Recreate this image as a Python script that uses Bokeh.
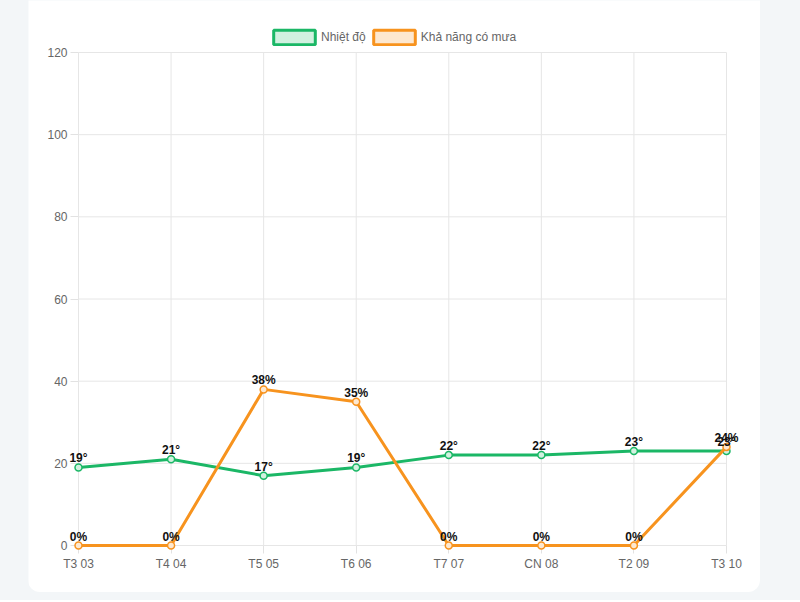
from bokeh.plotting import figure
from bokeh.models import ColumnDataSource, FixedTicker, Legend, LegendItem, Range1d, LabelSet
from bokeh.layouts import column
from bokeh.embed import file_html
from bokeh.resources import INLINE
from bokeh.core.properties import value

days = ["T3 03", "T4 04", "T5 05", "T6 06", "T7 07", "CN 08", "T2 09", "T3 10"]
temps = [19, 21, 17, 19, 22, 22, 23, 23]
rain = [0, 0, 38, 35, 0, 0, 0, 24]
y_ticks = [0, 20, 40, 60, 80, 100, 120]

GREEN = "#1bb766"
GREEN_L = "#d2f1e0"
ORANGE = "#f7931e"
ORANGE_L = "#fde8d0"
FONT = "Liberation Sans"
GRID = "#e6e6e6"

# layout (pixels inside the white card)
W, H = 732, 592
PL, PR, PT, PB = 50, 34, 52, 47

xs = list(range(len(days)))
x_max = xs[-1]
y_max = y_ticks[-1]
upx = x_max / (W - PL - PR)
upy = y_max / (H - PT - PB)

src = ColumnDataSource(dict(
    x=xs, t=temps, r=rain,
    tl=[f"{v}°" for v in temps],
    rl=[f"{v}%" for v in rain],
))

p = figure(width=W, height=H, output_backend="svg", toolbar_location=None,
           x_range=Range1d(-PL * upx, x_max + PR * upx),
           y_range=Range1d(-PB * upy, y_max + PT * upy),
           min_border=0, margin=(0, 40, 8, 28))
p.outline_line_color = None
p.background_fill_color = "white"
p.border_fill_color = "white"
p.styles = {"border-radius": "0 0 12px 12px", "overflow": "hidden"}
p.grid.visible = False

# grid lines limited to the data area
p.segment(x0=xs, x1=xs, y0=[y_ticks[0]] * len(xs), y1=[y_max] * len(xs),
          line_color=GRID, line_width=1)
p.segment(x0=[xs[0]] * len(y_ticks), x1=[x_max] * len(y_ticks), y0=y_ticks, y1=y_ticks,
          line_color=GRID, line_width=1)

for ax in (p.xaxis[0], p.yaxis[0]):
    ax.fixed_location = 0
    ax.level = "underlay"
    ax.axis_line_color = "#d6d6d6"
    ax.major_tick_line_color = "#e2e2e2"
    ax.major_tick_out = 8
    ax.major_tick_in = 0
    ax.minor_tick_line_color = None
    ax.major_label_text_color = "#666666"
    ax.major_label_text_font = FONT
    ax.major_label_text_font_size = "12px"
    ax.major_label_standoff = 3

p.xaxis.bounds = (xs[0], x_max)
p.yaxis.bounds = (y_ticks[0], y_max)
p.xaxis.ticker = FixedTicker(ticks=xs)
p.xaxis.major_label_overrides = {i: d for i, d in enumerate(days)}
p.yaxis.ticker = FixedTicker(ticks=y_ticks)

# legend proxies (nothing drawn in the plot: NaN geometry)
nan = float("nan")
lg_t = p.quad(left=[nan], right=[nan], top=[nan], bottom=[nan],
              fill_color=GREEN_L, line_color=GREEN, line_width=3)
lg_r = p.quad(left=[nan], right=[nan], top=[nan], bottom=[nan],
              fill_color=ORANGE_L, line_color=ORANGE, line_width=3)

p.line("x", "t", source=src, line_color=GREEN, line_width=3)
p.scatter("x", "t", source=src, size=7, fill_color=GREEN_L, line_color=GREEN, line_width=1.5)
p.line("x", "r", source=src, line_color=ORANGE, line_width=3)
p.scatter("x", "r", source=src, size=7, fill_color=ORANGE_L, line_color=ORANGE, line_width=1.5)

for col, lab in (("r", "rl"), ("t", "tl")):
    p.add_layout(LabelSet(x="x", y=col, text=lab, source=src, text_align="center",
                          text_baseline="bottom", y_offset=2, text_font=value(FONT),
                          text_font_style="bold", text_font_size="12px",
                          text_color="#111111"))

legend = Legend(items=[LegendItem(label="Nhiệt độ", renderers=[lg_t]),
                       LegendItem(label="Khả năng có mưa", renderers=[lg_r])],
                orientation="horizontal", location=(240, 546),
                glyph_width=52, glyph_height=18, label_standoff=1, spacing=2,
                padding=0, margin=0, border_line_color=None, background_fill_alpha=0,
                label_text_font=FONT, label_text_font_size="12px", label_text_color="#666666")
p.add_layout(legend, "center")

root = column(p, styles={"background-color": "#f3f6f8"})

open("out.html", "w").write(file_html(root, INLINE))
